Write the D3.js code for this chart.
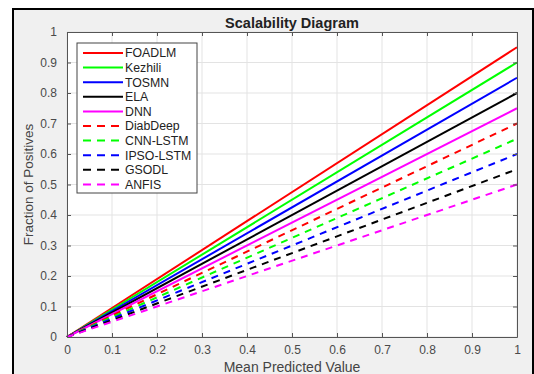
<!DOCTYPE html>
<html>
<head>
<meta charset="utf-8">
<script src="https://cdn.jsdelivr.net/npm/d3@7"></script>
<style>
  body { margin: 0; background: #fff; }
  text { font-family: "Liberation Sans", Arial, sans-serif; }
</style>
</head>
<body>
<div id="chart"></div>
<script>
// series names, colours, dash flags and end values at x = 1
var names = ["FOADLM", "Kezhili", "TOSMN", "ELA", "DNN", "DiabDeep", "CNN-LSTM", "IPSO-LSTM", "GSODL", "ANFIS"];
var colors = ["#ff0000", "#00ff00", "#0000ff", "#000000", "#ff00ff", "#ff0000", "#00ff00", "#0000ff", "#000000", "#ff00ff"];
var dashed = [false, false, false, false, false, true, true, true, true, true];
var endValues = [0.95, 0.9, 0.85, 0.8, 0.75, 0.7, 0.65, 0.6, 0.55, 0.5];
var xPoints = [0, 1];
var ticks = [0, 0.1, 0.2, 0.3, 0.4, 0.5, 0.6, 0.7, 0.8, 0.9, 1];

var W = 534, H = 374;
var margin = {top: 32, right: 17, bottom: 37, left: 67},
    width = W - margin.left - margin.right,
    height = H - margin.top - margin.bottom;

var x = d3.scaleLinear().domain([0, 1]).range([0, width]);
var y = d3.scaleLinear().domain([0, 1]).range([height, 0]);

var svg = d3.select("#chart").append("svg")
    .attr("width", W)
    .attr("height", H);

// figure background and frame
svg.append("rect").attr("x", 0).attr("y", 0).attr("width", W).attr("height", H).attr("fill", "#fff");
svg.append("rect").attr("x", 13).attr("y", 9).attr("width", 520).attr("height", 370)
    .attr("fill", "#f0f0f0").attr("stroke", "#000").attr("stroke-width", 2);

var g = svg.append("g")
    .attr("transform", "translate(" + margin.left + "," + margin.top + ")");

g.append("rect").attr("width", width).attr("height", height).attr("fill", "#fff");

// grid
g.selectAll(".gx").data(ticks).enter().append("line")
    .attr("x1", function(d) { return x(d); }).attr("x2", function(d) { return x(d); })
    .attr("y1", 0).attr("y2", height)
    .attr("stroke", "#e3e3e3").attr("stroke-width", 1);
g.selectAll(".gy").data(ticks).enter().append("line")
    .attr("y1", function(d) { return y(d); }).attr("y2", function(d) { return y(d); })
    .attr("x1", 0).attr("x2", width)
    .attr("stroke", "#e3e3e3").attr("stroke-width", 1);

// lines
var line = d3.line()
    .x(function(d) { return x(d[0]); })
    .y(function(d) { return y(d[1]); });

names.forEach(function(n, i) {
  g.append("path")
      .datum(xPoints.map(function(p) { return [p, p * endValues[i]]; }))
      .attr("d", line)
      .attr("fill", "none")
      .attr("stroke", colors[i])
      .attr("stroke-width", 2)
      .attr("stroke-dasharray", dashed[i] ? "7,6" : null);
});

// axes
var fmt = function(d) { return d3.format("")(+d.toFixed(1)); };
var xAxis = g.append("g").attr("transform", "translate(0," + height + ")")
    .call(d3.axisBottom(x).tickValues(ticks).tickFormat(fmt).tickSizeInner(-4).tickSizeOuter(0).tickPadding(8));
var xTop = g.append("g")
    .call(d3.axisTop(x).tickValues(ticks).tickFormat("").tickSizeInner(-4).tickSizeOuter(0));
var yAxis = g.append("g")
    .call(d3.axisLeft(y).tickValues(ticks).tickFormat(fmt).tickSizeInner(-4).tickSizeOuter(0).tickPadding(10));
var yRight = g.append("g").attr("transform", "translate(" + width + ",0)")
    .call(d3.axisRight(y).tickValues(ticks).tickFormat("").tickSizeInner(-4).tickSizeOuter(0));

[xAxis, xTop, yAxis, yRight].forEach(function(a) {
  a.selectAll("path, line").attr("stroke", "#555");
  a.selectAll("text").attr("fill", "#4a4a4a").style("font-size", "12px");
});

// legend
var legend = g.append("g").attr("transform", "translate(10,11)");
legend.append("rect").attr("width", 120).attr("height", 150)
    .attr("fill", "#fff").attr("stroke", "#444").attr("stroke-width", 1);
names.forEach(function(n, i) {
  var ly = 10 + i * 14.6;
  legend.append("line")
      .attr("x1", 6).attr("x2", 46).attr("y1", ly).attr("y2", ly)
      .attr("stroke", colors[i]).attr("stroke-width", 2)
      .attr("stroke-dasharray", dashed[i] ? "8,6" : null);
  legend.append("text")
      .attr("x", 48).attr("y", ly).attr("dy", "0.35em")
      .attr("fill", "#222").style("font-size", "12.3px")
      .text(n);
});

// titles
svg.append("text").attr("x", margin.left + width / 2).attr("y", 28)
    .attr("text-anchor", "middle").style("font-size", "14.5px").style("font-weight", "bold")
    .attr("fill", "#222").text("Scalability Diagram");
svg.append("text").attr("x", margin.left + width / 2).attr("y", 372)
    .attr("text-anchor", "middle").style("font-size", "14px")
    .attr("fill", "#444").text("Mean Predicted Value");
svg.append("text")
    .attr("transform", "translate(33," + (margin.top + height / 2) + ") rotate(-90)")
    .attr("text-anchor", "middle").style("font-size", "13.5px")
    .attr("fill", "#444").text("Fraction of Positives");
</script>
</body>
</html>
